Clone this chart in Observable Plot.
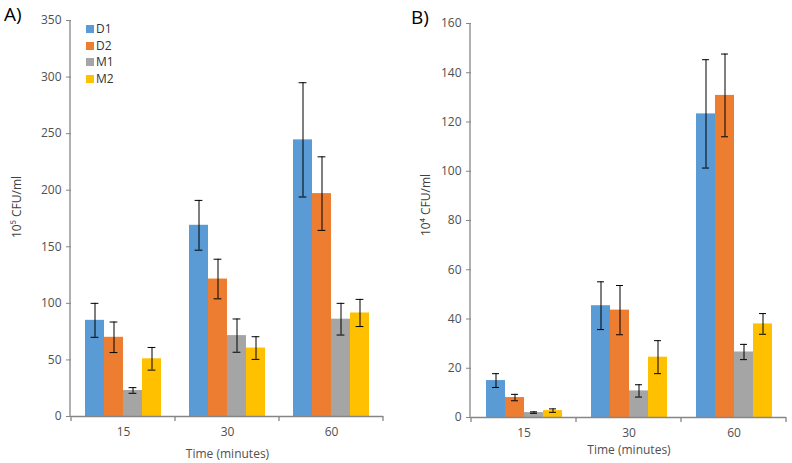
<!DOCTYPE html>
<html><head><meta charset="utf-8">
<script src="https://cdn.jsdelivr.net/npm/d3@7"></script>
<script src="https://cdn.jsdelivr.net/npm/@observablehq/plot@0.6"></script>
<style>
body{margin:0;background:#fff;font-family:"Open Sans",sans-serif;}
#wrap{position:relative;width:792px;height:463px;display:flex;}
.panel{position:relative;width:396px;height:463px;}
.tag{position:absolute;font-size:19px;line-height:1;color:#000;}
.ylab{position:absolute;font-size:12px;color:#404040;white-space:nowrap;transform:translate(-50%,-50%) rotate(-90deg);}
.legend{position:absolute;left:86px;top:21px;font-size:12px;color:#333;}
.legend div{height:16.5px;line-height:16.5px;display:flex;align-items:center;}
.legend span.sw{display:inline-block;width:8px;height:8px;margin-right:2px;}
</style></head><body>
<div id="wrap">
  <div class="panel" id="pa"><div class="tag" style="left:4px;top:5px">A)</div><div class="ylab" style="left:16px;top:207px">10⁵ CFU/ml</div></div>
  <div class="panel" id="pb"><div class="tag" style="left:15px;top:8px">B)</div><div class="ylab" style="left:29px;top:205px">10⁴ CFU/ml</div></div>
</div>
<script>
const times = ["15", "30", "60"];
const series = ["D1", "D2", "M1", "M2"];
const colors = ["#5B9BD5", "#ED7D31", "#A5A5A5", "#FFC000"];

// Panel A (10^5 CFU/ml)
const A_D1 = [85, 169, 244.5];
const A_D2 = [70, 121.5, 197];
const A_M1 = [23, 71.5, 86];
const A_M2 = [51, 60.5, 91.5];
const A_D1_err = [15, 22, 50.5];
const A_D2_err = [13.5, 17.5, 32.5];
const A_M1_err = [2.5, 14.7, 14];
const A_M2_err = [10, 10, 12];

// Panel B (10^4 CFU/ml)
const B_D1 = [15, 45.4, 123.3];
const B_D2 = [8.1, 43.6, 130.8];
const B_M1 = [2.0, 10.8, 26.6];
const B_M2 = [2.8, 24.5, 38];
const B_D1_err = [2.8, 9.7, 22];
const B_D2_err = [1.3, 10, 16.8];
const B_M1_err = [0.3, 2.5, 3.1];
const B_M2_err = [0.7, 6.7, 4.2];

const yTicksA = [0, 50, 100, 150, 200, 250, 300, 350];
const yTicksB = [0, 20, 40, 60, 80, 100, 120, 140, 160];

function rowsOf(vals, errs) {
  const rows = [];
  series.forEach((s, i) => times.forEach((t, j) => rows.push({time: t, series: s, value: vals[i][j], err: errs[i][j]})));
  return rows;
}
const rowsA = rowsOf([A_D1, A_D2, A_M1, A_M2], [A_D1_err, A_D2_err, A_M1_err, A_M2_err]);
const rowsB = rowsOf([B_D1, B_D2, B_M1, B_M2], [B_D1_err, B_D2_err, B_M1_err, B_M2_err]);

function panel(rows, cfg) {
  const axisColor = "#868686";
  const chart = Plot.plot({
    width: 396, height: 463,
    marginLeft: cfg.ml, marginRight: cfg.mr, marginTop: cfg.mt, marginBottom: cfg.mb,
    style: {fontFamily: "'Open Sans', sans-serif", fontSize: "12px", color: "#505050", background: "white", overflow: "visible"},
    fx: {domain: times, paddingInner: 0, paddingOuter: 0, tickSize: 0, tickPadding: 11, label: "Time (minutes)", labelAnchor: "center", labelOffset: cfg.xlo},
    x: {domain: series, paddingInner: 0, paddingOuter: cfg.po, axis: null},
    y: {domain: [0, cfg.ymax], ticks: cfg.ticks, tickSize: 5, tickPadding: 5, label: null},
    color: {domain: series, range: colors},
    marks: [
      Plot.barY(rows, {fx: "time", x: "series", y: "value", fill: "series"}),
      Plot.ruleX(rows, {fx: "time", x: "series", y1: d => d.value - d.err, y2: d => d.value + d.err, stroke: "#000", strokeWidth: 1}),
      Plot.tickY(rows, {fx: "time", x: "series", y: d => d.value - d.err, stroke: "#000", insetLeft: cfg.cap, insetRight: cfg.cap}),
      Plot.tickY(rows, {fx: "time", x: "series", y: d => d.value + d.err, stroke: "#000", insetLeft: cfg.cap, insetRight: cfg.cap}),
      Plot.ruleY([0], {stroke: axisColor, strokeWidth: 1.3})
    ]
  });
  // axis spine and category boundary ticks, placed from the library's scales
  const fx = chart.scale("fx"), y = chart.scale("y");
  const g = d3.select(chart).append("g").attr("stroke", axisColor).attr("stroke-width", 1.3);
  const y0 = y.apply(0), yTop = y.apply(cfg.ymax);
  g.append("line").attr("x1", cfg.ml).attr("x2", cfg.ml).attr("y1", yTop).attr("y2", y0);
  const edges = times.map(t => fx.apply(t)).concat([fx.apply(times[times.length - 1]) + fx.bandwidth]);
  edges.forEach(x => g.append("line").attr("x1", x).attr("x2", x).attr("y1", y0).attr("y2", y0 + 5));
  d3.select(chart).selectAll("g[aria-label='y-axis tick'] path, g[aria-label='y-axis tick']").attr("stroke", axisColor);
  return chart;
}

document.getElementById("pa").prepend(panel(rowsA, {ml: 70, mr: 13, mt: 20, mb: 47, po: 0.71, cap: 5.6, ymax: 350, ticks: yTicksA, xlo: 41}));
document.getElementById("pb").prepend(panel(rowsB, {ml: 74, mr: 5, mt: 23, mb: 46, po: 0.64, cap: 6, ymax: 160, ticks: yTicksB, xlo: 36}));

const leg = document.createElement("div");
leg.className = "legend";
series.forEach((s, i) => {
  const it = document.createElement("div");
  it.innerHTML = `<span class="sw" style="background:${colors[i]}"></span>${s}`;
  leg.appendChild(it);
});
document.getElementById("pa").appendChild(leg);
</script>
</body></html>
